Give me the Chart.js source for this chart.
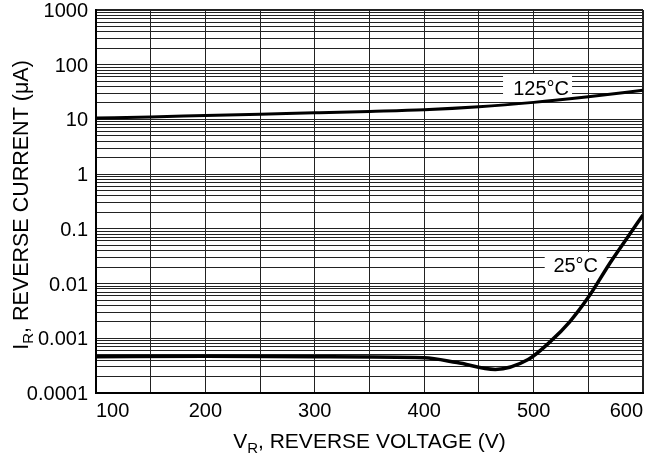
<!DOCTYPE html>
<html>
<head>
<meta charset="utf-8">
<script src="https://cdn.jsdelivr.net/npm/chart.js@4.4.0/dist/chart.umd.min.js"></script>
<style>
  html, body { margin: 0; padding: 0; background: #fff; }
</style>
</head>
<body>
<canvas id="diodeChart" width="663" height="467"></canvas>
<script>
// reverse current vs reverse voltage
const voltage125 = [100, 150, 200, 250, 300, 350, 400, 450, 500, 550, 600];
const current125 = [10.6, 11.1, 11.8, 12.5, 13.2, 14, 15, 17, 20.5, 26, 34];

const voltage25 = [100, 200, 300, 400, 430, 465, 495, 515, 533, 550, 570, 585, 600];
const current25 = [0.00046, 0.00047, 0.00046, 0.00044, 0.00036, 0.00027, 0.00041, 0.00086, 0.002, 0.0056, 0.024, 0.066, 0.18];

const xTickLabels = ['100', '200', '300', '400', '500', '600'];
const yDecades = [0.0001, 0.001, 0.01, 0.1, 1, 10, 100, 1000];
const yDecadeLabels = ['0.0001', '0.001', '0.01', '0.1', '1', '10', '100', '1000'];
const yMinorSteps = [2, 3, 4, 5, 6, 7, 8, 9];

// text anchor in data units, box size in px
const curveLabels = [
  { text: '125\u00B0C', x: 506.8, y: 37.5, w: 69, h: 28, dx: -3.5 },
  { text: '25\u00B0C', x: 538.5, y: 0.0218, w: 62, h: 26, dx: 0 }
];

const FONT = '"Liberation Sans", Arial, Helvetica, sans-serif';

const toPoints = (xs, ys) => xs.map((x, i) => ({ x: x, y: ys[i] }));

const isDecade = value => yDecades.findIndex(d => Math.abs(Math.log10(value) - Math.log10(d)) < 1e-6);

const labelPlugin = {
  id: 'curveLabels',
  beforeDatasetsDraw(chart) {
    const ctx = chart.ctx;
    const xs = chart.scales.x;
    const ys = chart.scales.y;
    ctx.save();
    ctx.font = '20px ' + FONT;
    ctx.textAlign = 'center';
    ctx.textBaseline = 'middle';
    curveLabels.forEach(l => {
      const px = xs.getPixelForValue(l.x);
      const py = ys.getPixelForValue(l.y);
      ctx.fillStyle = '#fff';
      ctx.fillRect(px + l.dx - l.w / 2, py - l.h / 2, l.w, l.h);
      ctx.fillStyle = '#000';
      ctx.fillText(l.text, px, py + 1);
    });
    ctx.restore();
  }
};

// axis titles need subscripts, so they are drawn by hand
const drawSubTitle = (ctx, parts, cx, cy) => {
  let total = 0;
  parts.forEach(p => {
    ctx.font = p.size + 'px ' + FONT;
    p.w = ctx.measureText(p.text).width;
    total += p.w;
  });
  let x = cx - total / 2;
  parts.forEach(p => {
    ctx.font = p.size + 'px ' + FONT;
    ctx.fillText(p.text, x, cy + (p.shift || 0));
    x += p.w;
  });
};

const titlePlugin = {
  id: 'axisTitles',
  afterDraw(chart) {
    const ctx = chart.ctx;
    const area = chart.chartArea;
    ctx.save();
    ctx.fillStyle = '#000';
    ctx.textAlign = 'left';
    ctx.textBaseline = 'alphabetic';
    drawSubTitle(ctx, [
      { text: 'V', size: 21 },
      { text: 'R', size: 15, shift: 5 },
      { text: ', REVERSE VOLTAGE (V)', size: 21 }
    ], (area.left + area.right) / 2, 448);

    ctx.translate(28, 205);
    ctx.rotate(-Math.PI / 2);
    drawSubTitle(ctx, [
      { text: 'I', size: 21.5 },
      { text: 'R', size: 15, shift: 5 },
      { text: ', REVERSE CURRENT (\u03BCA)', size: 21.5 }
    ], 0, 0);
    ctx.restore();
  }
};

const chart = new Chart(document.getElementById('diodeChart'), {
  type: 'line',
  data: {
    datasets: [
      {
        label: '125\u00B0C',
        data: toPoints(voltage125, current125),
        borderColor: '#000',
        borderWidth: 3,
        pointRadius: 0,
        cubicInterpolationMode: 'monotone'
      },
      {
        label: '25\u00B0C',
        data: toPoints(voltage25, current25),
        borderColor: '#000',
        borderWidth: 3.5,
        pointRadius: 0,
        cubicInterpolationMode: 'monotone'
      }
    ]
  },
  options: {
    responsive: false,
    animation: false,
    layout: { padding: { left: 0, top: 10, right: 20, bottom: 0 } },
    plugins: {
      legend: { display: false },
      tooltip: { enabled: false }
    },
    scales: {
      x: {
        type: 'linear',
        min: 100,
        max: 600,
        afterFit: scale => {
          scale.height = 74;
          scale.paddingLeft = 0;
          scale.paddingRight = 0;
        },
        ticks: {
          stepSize: 50,
          autoSkip: false,
          maxRotation: 0,
          align: 'inner',
          padding: 6,
          color: '#000',
          font: { family: FONT, size: 20 },
          callback: value => xTickLabels.includes(String(value)) ? String(value) : ''
        },
        grid: {
          color: '#222',
          lineWidth: ctx => ctx.tick && ctx.tick.value === 600 ? 2 : 1,
          drawTicks: false
        },
        border: { color: '#000', width: 2 }
      },
      y: {
        type: 'logarithmic',
        min: 0.0001,
        max: 1000,
        afterFit: scale => {
          scale.width = 96;
          scale.paddingTop = 0;
          scale.paddingBottom = 0;
        },
        afterBuildTicks: scale => {
          const ticks = [];
          yDecades.forEach(d => {
            ticks.push({ value: d });
            if (d < 1000) yMinorSteps.forEach(m => ticks.push({ value: d * m }));
          });
          scale.ticks = ticks;
        },
        ticks: {
          autoSkip: false,
          padding: 8,
          labelOffset: 1.5,
          color: '#000',
          font: { family: FONT, size: 20 },
          callback: value => {
            const i = isDecade(value);
            return i >= 0 ? yDecadeLabels[i] : '';
          }
        },
        grid: {
          color: '#222',
          lineWidth: ctx => ctx.tick && isDecade(ctx.tick.value) === 7 ? 2 : 1,
          drawTicks: false
        },
        border: { color: '#000', width: 2 }
      }
    }
  },
  plugins: [labelPlugin, titlePlugin]
});
</script>
</body>
</html>
